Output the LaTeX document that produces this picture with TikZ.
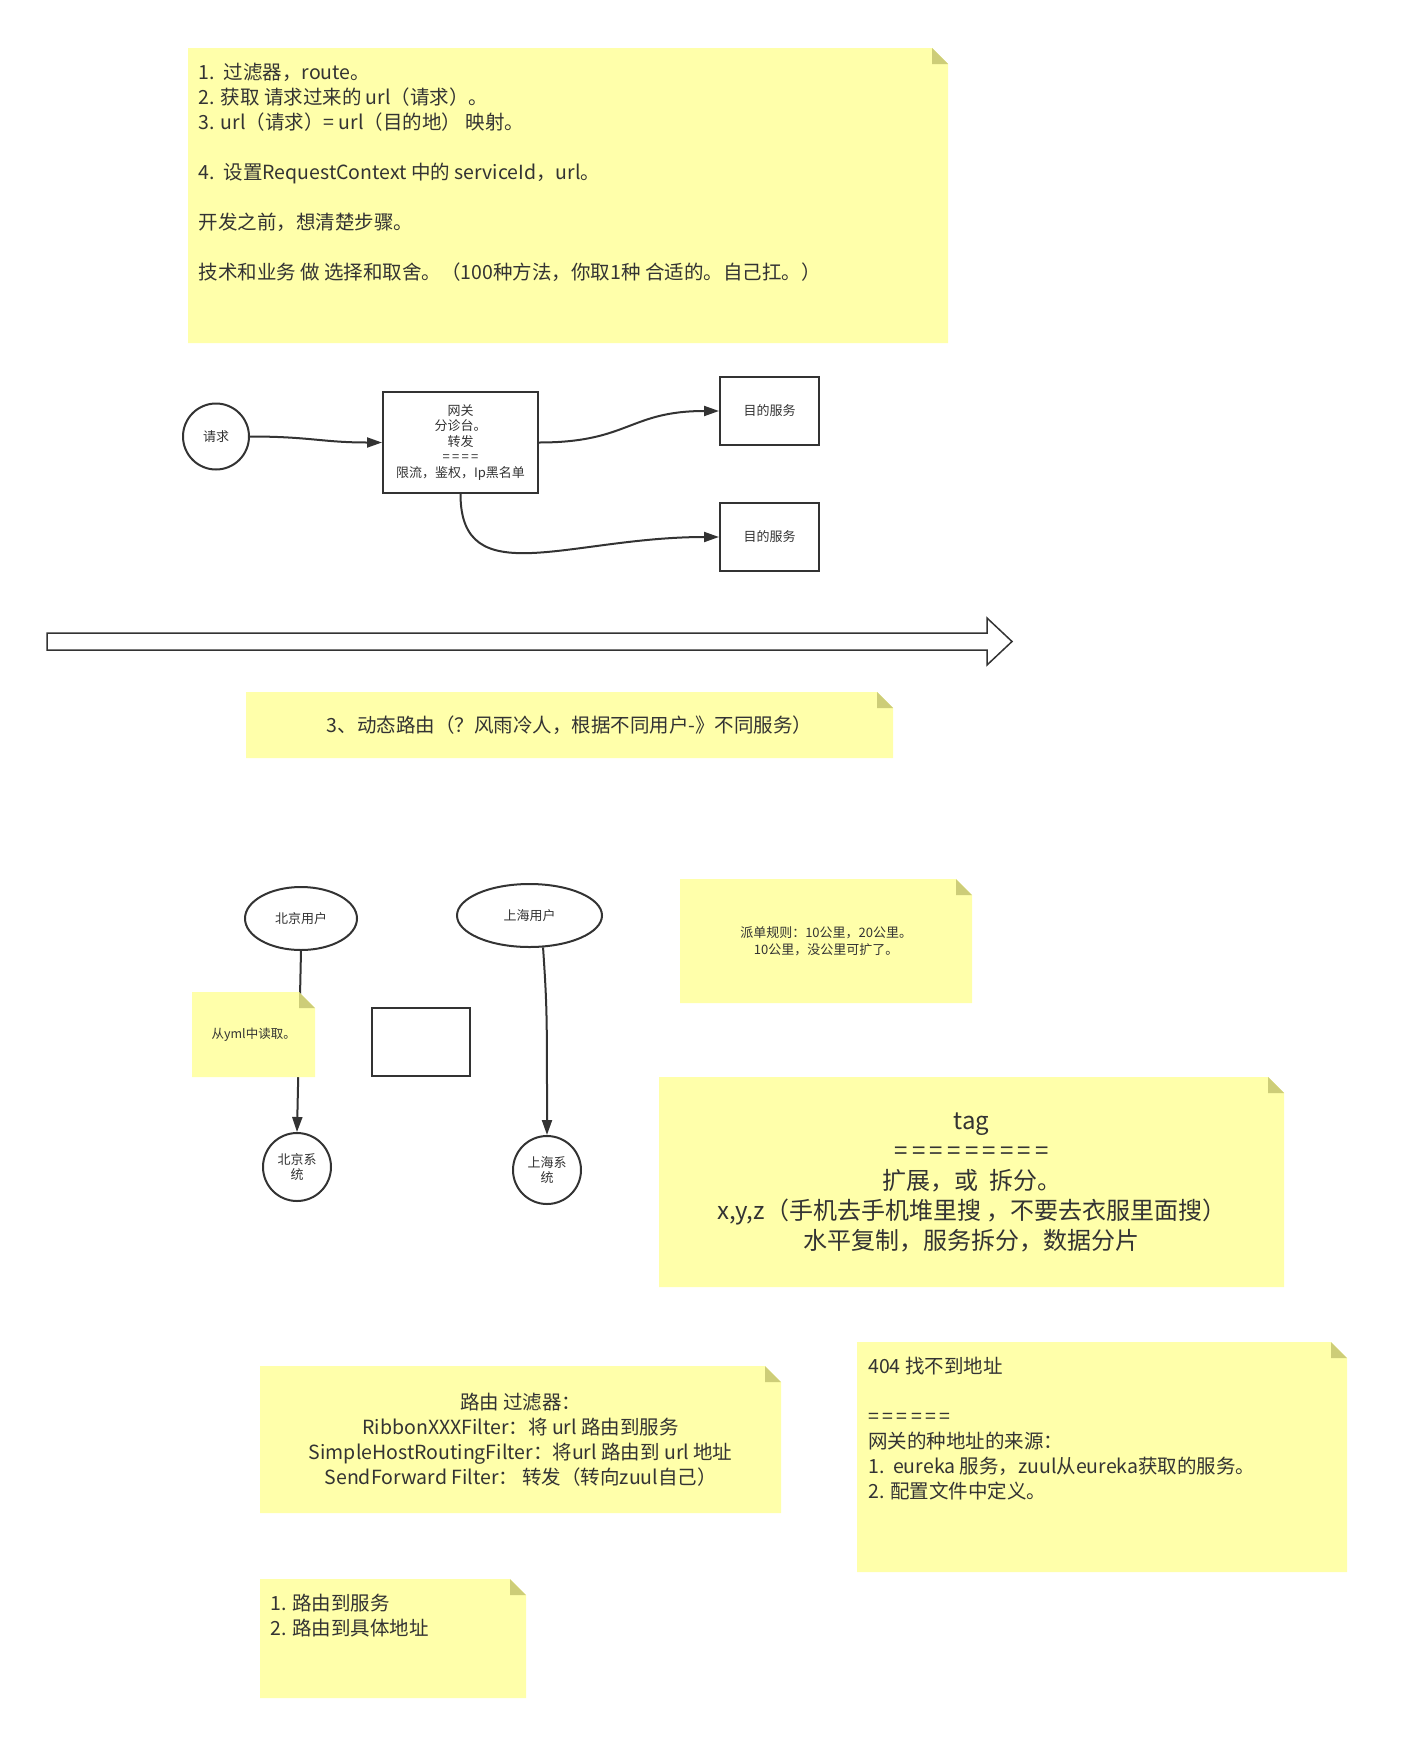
\documentclass[tikz,border=0pt]{standalone}
\usepackage{fontspec}
\setmainfont{Noto Sans CJK SC}
\usetikzlibrary{shapes.geometric,arrows.meta,positioning}
\definecolor{notefill}{HTML}{FFFFAA}
\definecolor{foldfill}{HTML}{CDCD78}
\definecolor{ink}{HTML}{333333}
\newcommand{\eqline}[1]{{\addfontfeature{LetterSpace=18}#1}}
\tikzstyle{block} = [rectangle, draw=ink, line width=2pt, fill=white, inner sep=0pt,
    align=center, font=\fontsize{13}{15.5}\selectfont]
\tikzstyle{term} = [circle, draw=ink, line width=2pt, fill=white, inner sep=0pt,
    align=center, font=\fontsize{13}{15.5}\selectfont]
\tikzstyle{user} = [ellipse, draw=ink, line width=2pt, fill=white, inner sep=0pt,
    font=\fontsize{13}{15.5}\selectfont]
\tikzstyle{note} = [rectangle, inner sep=0pt, anchor=north west, align=center,
    path picture={
      \fill[notefill] (path picture bounding box.south west) -- (path picture bounding box.north west)
        -- ([xshift=-16pt]path picture bounding box.north east)
        -- ([yshift=-16pt]path picture bounding box.north east)
        -- (path picture bounding box.south east) -- cycle;
      \fill[foldfill] ([xshift=-16pt]path picture bounding box.north east)
        -- ([xshift=-16pt,yshift=-16pt]path picture bounding box.north east)
        -- ([yshift=-16pt]path picture bounding box.north east) -- cycle;}]
\tikzstyle{line} = [draw=ink, line width=2pt, -{Triangle[length=15pt,width=10pt]}]

\begin{document}
\begin{tikzpicture}[x=1pt, y=-1pt, every node/.style={text=ink}]
    \useasboundingbox (0,0) rectangle (1408,1759);
    % Notes on the steps
    \node [note, inner xsep=10.5pt, inner ysep=13.5pt] (steps) at (188,48)
        {\parbox[c][268pt][t]{739pt}{\fontsize{19.5}{25}\selectfont\strut
        1.\ \ 过滤器，route。\\
        2. 获取 请求过来的 url（请求）。\\
        3. url（请求）= url（目的地） 映射。\\[25pt]
        4.\ \ 设置RequestContext 中的 serviceId，url。\\[25pt]
        开发之前，想清楚步骤。\\[25pt]
        技术和业务 做 选择和取舍。（100种方法，你取1种 合适的。自己扛。）}};

    % Gateway flow
    \node [term, minimum size=66pt] (req) at (216,436.5) {请求};
    \node [block, minimum width=155pt, minimum height=101pt] (gw) at (460.5,442.5)
        {网关\\分诊台。\\转发\\\eqline{====}\\限流，鉴权，Ip黑名单};
    \node [block, minimum width=99pt, minimum height=68pt] (svc1) at (769.5,411) {目的服务};
    \node [block, minimum width=99pt, minimum height=68pt, below=56pt of svc1] (svc2) {目的服务};

    \path [line] (req.east) .. controls +(60,0) and +(-60,0) .. (gw.west);
    \path [line] (gw.east) .. controls +(90,0) and +(-90,0) .. (svc1.west);
    \path [line] (gw.south) .. controls +(0,100) and +(-150,0) .. (svc2.west);

    % Big arrow
    \draw [ink, line width=1.5pt, fill=white] (47,633) -- (987,633) -- (987,618) -- (1012,641.5)
        -- (987,665) -- (987,650) -- (47,650) -- cycle;
    \node [note, minimum width=647pt, minimum height=66pt, font=\fontsize{19.5}{25}\selectfont]
        (dyn) at (246,692) {3、动态路由（？风雨冷人，根据不同用户-》不同服务）};

    % Users and systems
    \node [user, minimum width=112pt, minimum height=63pt] (bj) at (301,918.5) {北京用户};
    \node [user, minimum width=145pt, minimum height=63pt] (sh) at (529.5,915.5) {上海用户};
    \node [term, minimum size=68pt] (bjs) at (297,1167) {北京系\\统};
    \node [term, minimum size=68pt] (shs) at (547,1170) {上海系\\统};
    \node [block, minimum width=98pt, minimum height=68pt] (blank) at (421,1042) {};

    \path [line] (bj.south) -- (bjs.north);
    \path [line] (sh.293) .. controls +(4,60) and +(0,-120) .. (shs.north);

    \node [note, minimum width=123pt, minimum height=85pt, font=\fontsize{12.5}{15}\selectfont]
        (yml) at (192,992) {从yml中读取。};
    \node [note, minimum width=292pt, minimum height=124pt, font=\fontsize{13}{17}\selectfont]
        (rule) at (680,879) {派单规则：10公里，20公里。\\10公里，没公里可扩了。};
    \node [note, minimum width=625pt, minimum height=210pt, font=\fontsize{24}{30}\selectfont]
        (tag) at (659,1077) {tag\\\eqline{=========}\\扩展，或\ \ 拆分。\\
        x,y,z（手机去手机堆里搜 ，不要去衣服里面搜）\\水平复制，服务拆分，数据分片};

    % Route filters
    \node [note, minimum width=521pt, minimum height=147pt, font=\fontsize{19.5}{25}\selectfont]
        (filter) at (260,1366) {路由 过滤器：\\RibbonXXXFilter：将 url 路由到服务\\
        SimpleHostRoutingFilter：将url 路由到 url 地址\\SendForward Filter：\ 转发（转向zuul自己）};
    \node [note, inner xsep=11pt, inner ysep=13.5pt] (addr) at (857,1342)
        {\parbox[c][203pt][t]{468pt}{\fontsize{19.5}{25}\selectfont\strut
        404 找不到地址\\[25pt]
        \eqline{======}\\
        网关的种地址的来源：\\
        1.\ \ eureka 服务，zuul从eureka获取的服务。\\
        2. 配置文件中定义。}};
    \node [note, inner xsep=10pt, inner ysep=13.5pt] (target) at (260,1579)
        {\parbox[c][92pt][t]{246pt}{\fontsize{19.5}{25}\selectfont\strut
        1. 路由到服务\\
        2. 路由到具体地址}};
\end{tikzpicture}
\end{document}
